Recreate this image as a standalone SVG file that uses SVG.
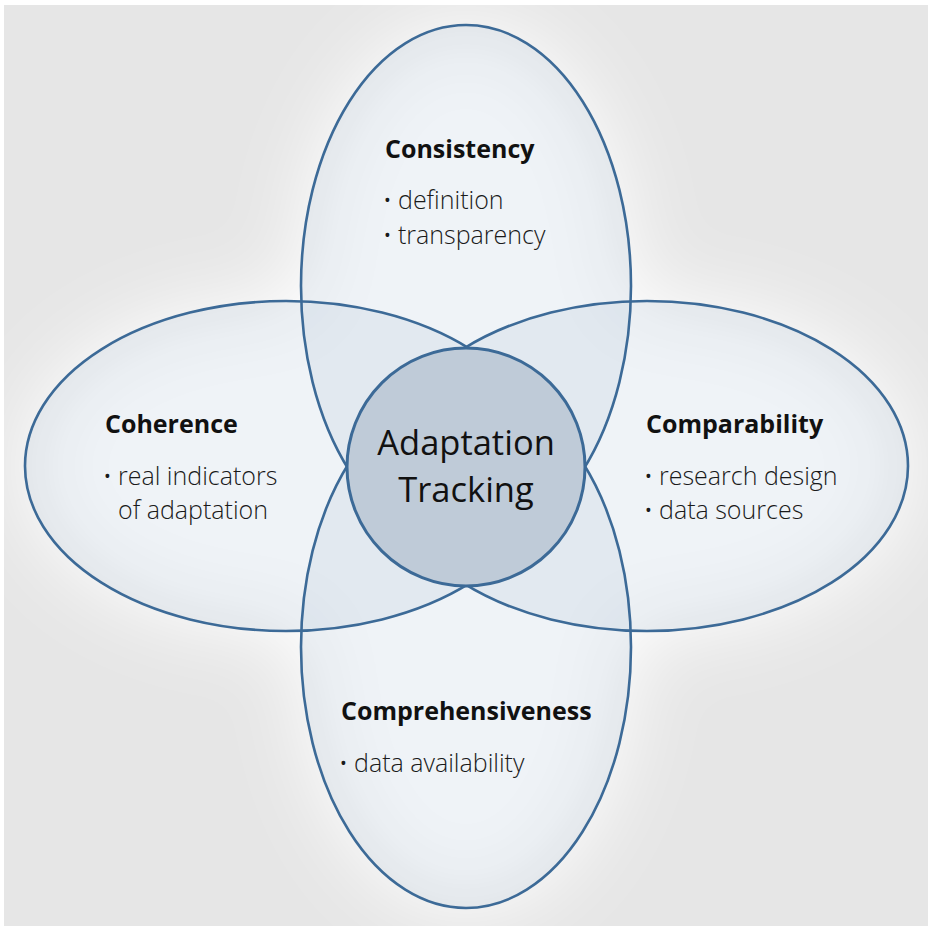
<svg xmlns="http://www.w3.org/2000/svg" width="928" height="926" viewBox="0 0 928 926">
<defs>
<filter id="glow" x="-40%" y="-40%" width="180%" height="180%">
<feGaussianBlur stdDeviation="40"/>
</filter>
<style>
.fill{fill:#a9bbd0;fill-opacity:0.18;stroke:none}
.edge{fill:none;stroke:#3c6a97;stroke-width:2.6}
.hub{fill:#bfcbd8;stroke:#3c6a97;stroke-width:3}
.t{font-family:"Open Sans","Noto Sans",sans-serif;font-weight:700;font-size:25px;fill:#111}
.b{font-family:"Open Sans","Noto Sans",sans-serif;font-weight:300;font-size:25px;fill:#1a1a1a}
.dot{font-size:18px;font-weight:400}
.c{font-family:"Open Sans","Noto Sans",sans-serif;font-weight:400;font-size:34.5px;fill:#111;text-anchor:middle}
</style>
</defs>
<rect x="0" y="0" width="928" height="926" fill="#ffffff"/>
<rect x="4" y="5" width="924" height="921" fill="#e6e6e6"/>
<g filter="url(#glow)" fill="#ffffff">
<ellipse cx="466" cy="286" rx="165" ry="261"/>
<ellipse cx="466" cy="647" rx="165" ry="261"/>
<ellipse cx="286" cy="466" rx="261" ry="165"/>
<ellipse cx="647" cy="466" rx="261" ry="165"/>
<circle cx="466" cy="466" r="200"/>
</g>
<g id="fills">
<ellipse class="fill" cx="466" cy="286" rx="165" ry="261"/>
<ellipse class="fill" cx="466" cy="647" rx="165" ry="261"/>
<ellipse class="fill" cx="286" cy="466" rx="261" ry="165"/>
<ellipse class="fill" cx="647" cy="466" rx="261" ry="165"/>
</g>
<g id="consistency">
<ellipse class="edge" cx="466" cy="286" rx="165" ry="261"/>
<text class="t" x="385" y="158">Consistency</text>
<text class="b"><tspan class="dot" x="384" y="207">•</tspan><tspan x="398" y="209">definition</tspan></text>
<text class="b"><tspan class="dot" x="384" y="242">•</tspan><tspan x="398" y="244">transparency</tspan></text>
</g>
<g id="comprehensiveness">
<ellipse class="edge" cx="466" cy="647" rx="165" ry="261"/>
<text class="t" x="341" y="720">Comprehensiveness</text>
<text class="b"><tspan class="dot" x="340" y="770">•</tspan><tspan x="354" y="772">data availability</tspan></text>
</g>
<g id="coherence">
<ellipse class="edge" cx="286" cy="466" rx="261" ry="165"/>
<text class="t" x="105" y="433">Coherence</text>
<text class="b"><tspan class="dot" x="104" y="483">•</tspan><tspan x="118" y="485">real indicators</tspan></text>
<text class="b" x="118" y="519">of adaptation</text>
</g>
<g id="comparability">
<ellipse class="edge" cx="647" cy="466" rx="261" ry="165"/>
<text class="t" x="646" y="433">Comparability</text>
<text class="b"><tspan class="dot" x="645" y="483">•</tspan><tspan x="659" y="485">research design</tspan></text>
<text class="b"><tspan class="dot" x="645" y="517">•</tspan><tspan x="659" y="519">data sources</tspan></text>
</g>
<g id="connectors"></g>
<g id="adaptation-tracking">
<circle class="hub" cx="466" cy="467" r="119"/>
<text class="c" x="466" y="455">Adaptation</text>
<text class="c" x="466" y="502">Tracking</text>
</g>
</svg>
